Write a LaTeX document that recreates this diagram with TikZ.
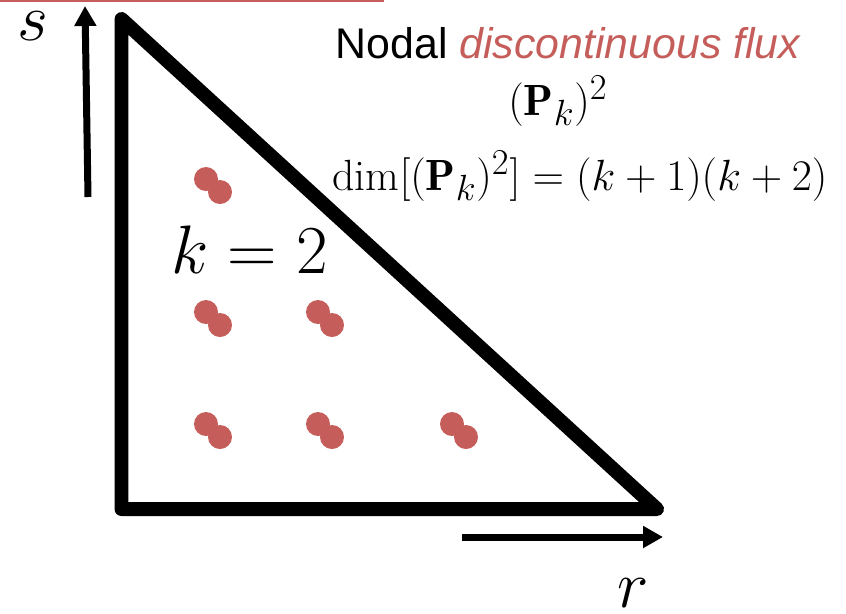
\documentclass[tikz,border=0pt]{standalone}
\usepackage{graphicx}
\usepackage{fontspec}
\setsansfont{Liberation Sans}
\usetikzlibrary{arrows.meta}

\definecolor{nodered}{RGB}{197,94,90}
\newcommand{\bigmath}[2]{\scalebox{#1}{\fontsize{24.88}{30}\selectfont$#2$}}

\begin{document}
\begin{tikzpicture}[
    x=0.02cm, y=-0.02cm,
    edge/.style={line width=0.28cm, line join=round, line cap=round},
    axis/.style={-{Triangle[length=0.4cm, width=0.42cm]}, line width=0.14cm},
    nodept/.style={fill=nodered},
    plain/.style={inner sep=0, anchor=base},
    formula/.style={plain, font=\fontsize{24.88}{30}\selectfont}
]
    \useasboundingbox (0,0) rectangle (846,613);

    % red rule along the top
    \draw[nodered, line width=2.5pt] (0,0) -- (384,0);

    % reference triangle
    \coordinate (top) at (121.5,19);
    \coordinate (corner) at (121.5,509);
    \coordinate (tip) at (657,509);
    \draw[edge] (top) -- (corner) -- (tip) -- cycle;

    % nodal points, two per position
    \foreach \x/\y in {206/179, 206/312, 318/312, 206/424, 318/424, 452/424} {
        \fill[nodept] (\x,\y) circle (12);
        \fill[nodept] (\x+14,\y+13) circle (12);
    }

    % axes
    \coordinate (s0) at (88,197);
    \coordinate (s1) at (85,6);
    \coordinate (r0) at (462,537);
    \coordinate (r1) at (663,537);
    \draw[axis] (s0) -- (s1);
    \draw[axis] (r0) -- (r1);
    \node[plain] (slabel) at (33,40) {\bigmath{1.53}{s}};
    \node[plain] (rlabel) at (633,607) {\bigmath{1.53}{r}};

    \node[plain] (order) at (249.5,273) {\bigmath{1.57}{k=2}};

    \node[plain, font=\sffamily\fontsize{24.4}{27}\selectfont] (title) at (568,58)
        {Nodal \textcolor{nodered}{\itshape discontinuous flux}};
    \node[formula] (space) at (558,115) {$(\mathbf{P}_k)^2$};
    \node[formula] (dimension) at (580,190) {$\dim[(\mathbf{P}_k)^2] = (k+1)(k+2)$};

\end{tikzpicture}
\end{document}
